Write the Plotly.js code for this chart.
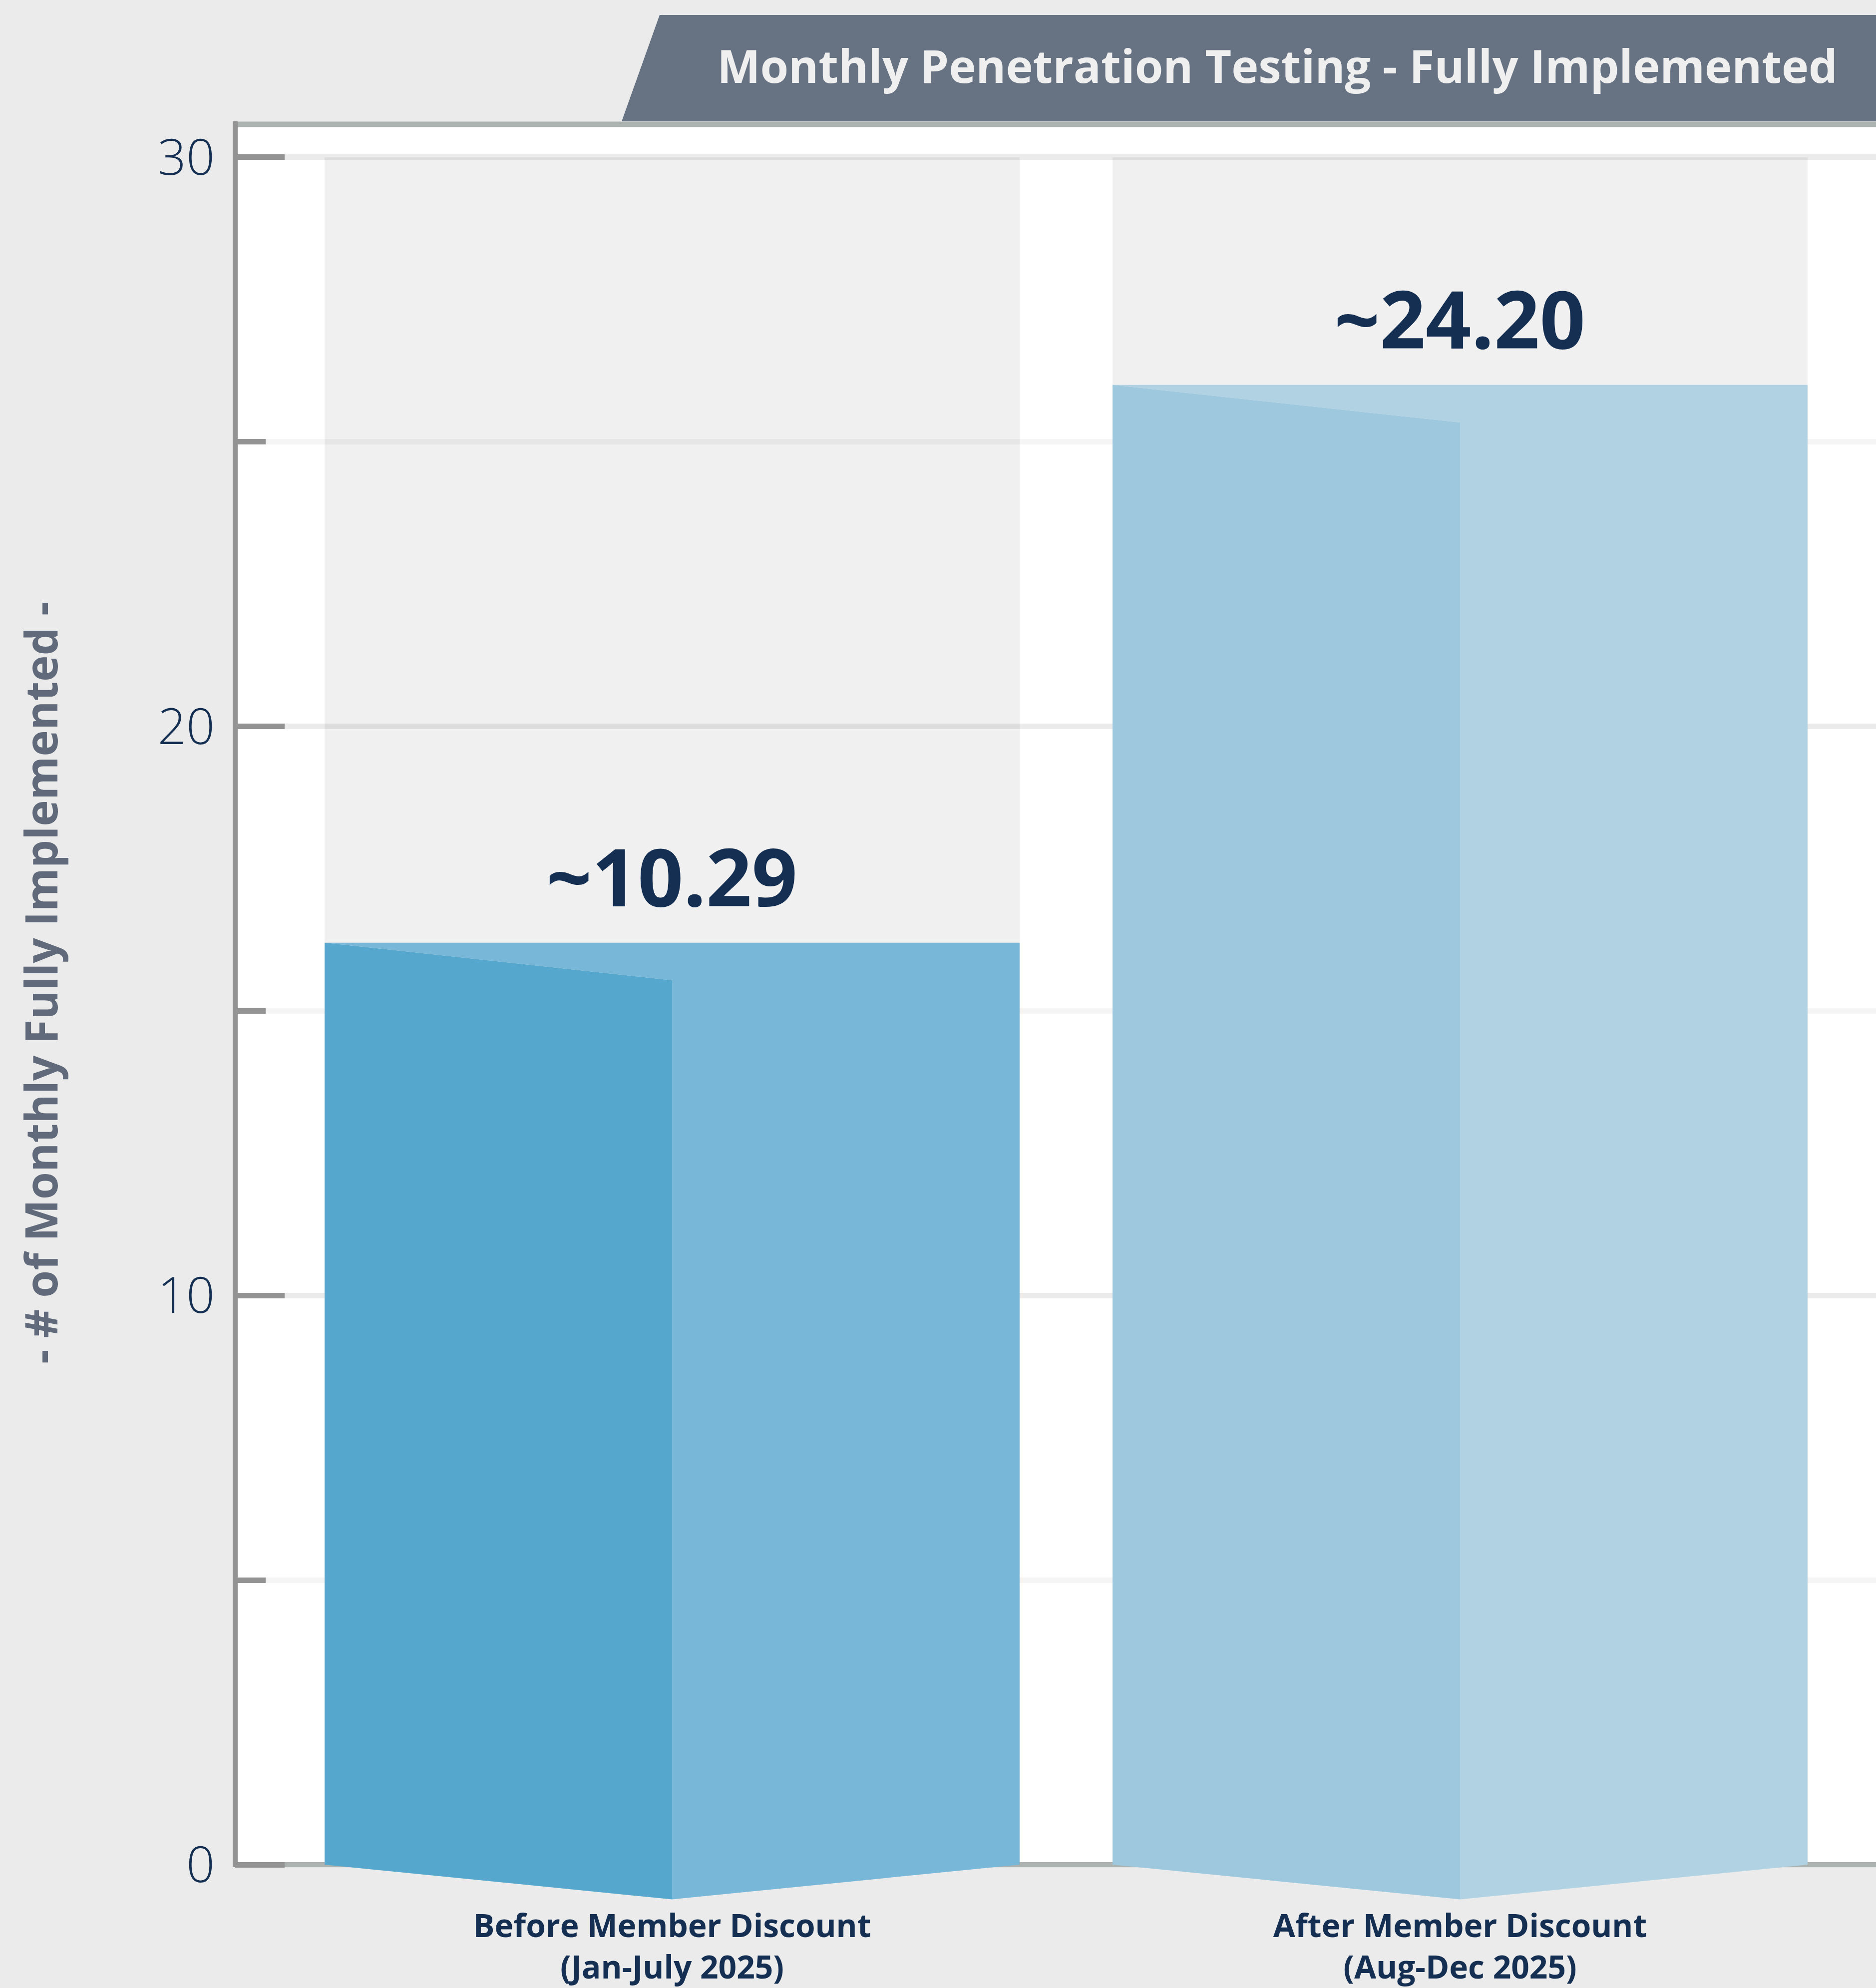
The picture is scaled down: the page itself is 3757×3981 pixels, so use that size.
<!DOCTYPE html>
<html><head><meta charset="utf-8">
<script src="https://cdn.plot.ly/plotly-3.0.1.min.js"></script>
<style>html,body{margin:0;padding:0;background:#ebebeb;}</style>
</head><body><div id="chart" style="width:3757px;height:3981px;"></div>
<script>
// ---------- data ----------
const categories = ["Before Member Discount<br>(Jan-July 2025)", "After Member Discount<br>(Aug-Dec 2025)"];
const barValues = [16.2, 26.0];
const valueLabels = ["~10.29", "~24.20"];
const backdropMax = 30;
const yTickVals = [0, 10, 20, 30];
const yTickText = ["0", "10", "20", "30"];
const chartTitle = "Monthly Penetration Testing - Fully Implemented";
const yAxisTitle = "- # of Monthly Fully Implemented -";

// ---------- style / geometry ----------
const W = 3757, H = 3981;
const M = {l: 471, r: 0, t: 249, b: 167};
const plotW = W - M.l - M.r, plotH = H - M.t - M.b;
const xRange = [-0.5545, 1.5279];
const yRange = [-0.702, 30.579];
const halfW = 0.441;
const topFold = 0.66, bottomFold = 0.61;
const leftColors = ["#55a7cd", "#9dc8de"];
const rightColors = ["#78b7d8", "#b0d2e2"];
const navy = "#152f52";
const FONT = "Open Sans, Lato, sans-serif";
const gridCol = "rgba(0,0,0,0.04)";
const px2paperX = p => (p - M.l) / plotW;
const px2paperY = p => (H - M.b - p) / plotH;

// ---------- traces ----------
const traces = [];
categories.forEach((c, i) => {
  const v = barValues[i];
  traces.push({
    type: "scatter", mode: "lines", hoverinfo: "skip", showlegend: false,
    x: [i - halfW, i + halfW, i + halfW, i, i, i - halfW],
    y: [v, v, 0, -bottomFold, v - topFold, v],
    fill: "toself", fillcolor: rightColors[i], line: {width: 0, color: rightColors[i]}
  });
  traces.push({
    type: "scatter", mode: "lines", hoverinfo: "skip", showlegend: false,
    x: [i - halfW, i, i, i - halfW, i - halfW],
    y: [v, v - topFold, -bottomFold, 0, v],
    fill: "toself", fillcolor: leftColors[i], line: {width: 0, color: leftColors[i]}
  });
});

// ---------- shapes ----------
const shapes = [];
shapes.push({type: "rect", layer: "below", xref: "x", yref: "y",
  x0: xRange[0], x1: xRange[1], y0: 0, y1: yRange[1],
  fillcolor: "#ffffff", line: {width: 0}});
categories.forEach((c, i) => {
  shapes.push({type: "rect", layer: "below", xref: "x", yref: "y",
    x0: i - halfW, x1: i + halfW, y0: 0, y1: backdropMax,
    fillcolor: "#f0f0f0", line: {width: 0}});
});
// title banner
shapes.push({type: "path", layer: "below", xref: "paper", yref: "paper",
  path: `M ${px2paperX(1321)} ${px2paperY(30)} L ${px2paperX(3800)} ${px2paperY(30)} L ${px2paperX(3800)} ${px2paperY(243)} L ${px2paperX(1245)} ${px2paperY(243)} Z`,
  fillcolor: "#677282", line: {width: 0}});
// top border
shapes.push({type: "line", xref: "paper", yref: "paper",
  x0: px2paperX(471), x1: 1.02, y0: 1, y1: 1,
  line: {color: "#abb2af", width: 11}});
// left axis line
shapes.push({type: "line", xref: "paper", yref: "paper",
  x0: 0, x1: 0, y0: px2paperY(3739), y1: px2paperY(243),
  line: {color: "#939393", width: 10}});

// ---------- annotations ----------
const annotations = categories.map((c, i) => ({
  x: i, y: barValues[i], xref: "x", yref: "y", text: valueLabels[i],
  showarrow: false, xanchor: "center", yanchor: "bottom", yshift: 24,
  font: {family: FONT, size: 160, color: navy, weight: 700}
}));
annotations.push({
  xref: "paper", yref: "paper", x: px2paperX(80), y: px2paperY(1968),
  text: yAxisTitle, textangle: -90, showarrow: false,
  xanchor: "center", yanchor: "middle",
  font: {family: FONT, size: 89, color: "#606a7a", weight: 700}
});

const layout = {
  width: W, height: H,
  margin: M,
  paper_bgcolor: "#ebebeb",
  plot_bgcolor: "rgba(0,0,0,0)",
  showlegend: false,
  title: {
    text: chartTitle, xref: "container", yref: "container",
    x: 3680 / W, xanchor: "right", y: 1 - 133.5 / H, yanchor: "middle",
    font: {family: FONT, size: 91.5, color: "#efefef", weight: 700}
  },
  xaxis: {
    range: xRange, tickmode: "array", tickvals: categories.map((c, i) => i), ticktext: categories,
    showgrid: false, zeroline: false, showline: false, ticks: "",
    ticklabelstandoff: 0,
    tickfont: {family: FONT, size: 64, color: navy, weight: 700},
    fixedrange: true
  },
  yaxis: {
    range: yRange, tickmode: "array", tickvals: yTickVals, ticktext: yTickText,
    ticks: "inside", ticklen: 99, tickwidth: 11, tickcolor: "#939393",
    showgrid: true, gridcolor: gridCol, gridwidth: 11,
    zeroline: true, zerolinecolor: "#abb2af", zerolinewidth: 10,
    showline: false,
    ticklabelstandoff: 40,
    minor: {tick0: 0, dtick: 5, ticks: "inside", ticklen: 61, tickwidth: 11, tickcolor: "#939393",
            showgrid: true, gridcolor: gridCol, gridwidth: 11},
    tickfont: {family: FONT, size: 100, color: navy, weight: 300},
    fixedrange: true
  },
  shapes: shapes,
  annotations: annotations
};

Plotly.newPlot("chart", traces, layout, {staticPlot: true, displayModeBar: false});
</script>
</body></html>
